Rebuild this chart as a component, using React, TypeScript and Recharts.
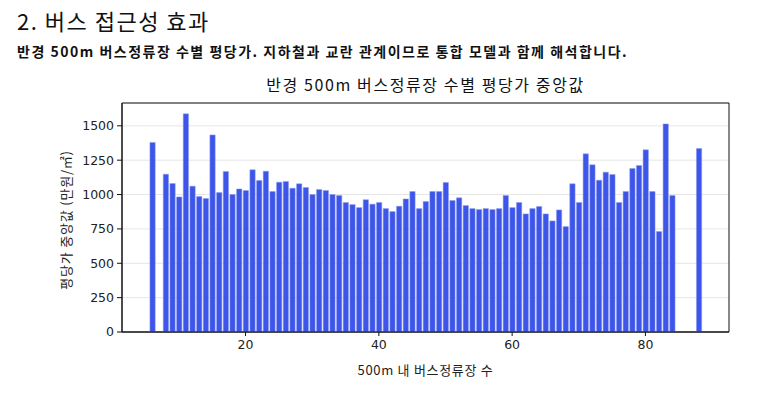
import { BarChart, Bar, XAxis, YAxis, CartesianGrid, ReferenceArea } from 'recharts';

const busStopCounts = [
	6, 8, 9, 10, 11, 12, 13, 14, 15, 16, 17, 18, 19, 20, 21, 22, 23, 24, 25, 26, 27, 28, 29, 30, 31,
	32, 33, 34, 35, 36, 37, 38, 39, 40, 41, 42, 43, 44, 45, 46, 47, 48, 49, 50, 51, 52, 53, 54, 55,
	56, 57, 58, 59, 60, 61, 62, 63, 64, 65, 66, 67, 68, 69, 70, 71, 72, 73, 74, 75, 76, 77, 78, 79,
	80, 81, 82, 83, 84, 88,
];
const medianPrices = [
	1379, 1148, 1080, 983, 1587, 1061, 985, 971, 1434, 1014, 1167, 1000, 1041, 1029, 1180, 1102, 1170,
	1022, 1090, 1095, 1046, 1078, 1051, 1000, 1036, 1029, 1000, 993, 942, 927, 905, 963, 930, 942, 898,
	876, 915, 968, 1022, 898, 949, 1022, 1022, 1087, 956, 976, 920, 898, 891, 898, 891, 898, 993, 905,
	942, 859, 898, 913, 859, 808, 888, 767, 1078, 942, 1296, 1216, 1104, 1163, 1146, 942, 1022, 1189,
	1211, 1325, 1022, 731, 1514, 993, 1335,
];
const xTicks = [20, 40, 60, 80];
const yTicks = [0, 250, 500, 750, 1000, 1250, 1500];

const data = busStopCounts.map((n, i) => ({ n, price: medianPrices[i] }));

const font = '"Noto Sans CJK KR", "Noto Sans", sans-serif';
const tickFont = '"DejaVu Sans", sans-serif';
const xDomain: [number, number] = [1.46, 92.54];
const yDomain: [number, number] = [0, 1666];

export default function App() {
	return (
		<div style={{ position: 'absolute', left: 0, top: 0, width: 781, height: 401, fontFamily: font, background: '#fff' }}>
			<div style={{ position: 'absolute', left: 17, top: 4, fontSize: 22, letterSpacing: 1.5, color: '#111' }}>
				2. 버스 접근성 효과
			</div>
			<div style={{ position: 'absolute', left: 17, top: 41, fontSize: 14, fontWeight: 700, letterSpacing: 1.5, color: '#111' }}>
				반경 500m 버스정류장 수별 평당가. 지하철과 교란 관계이므로 통합 모델과 함께 해석합니다.
			</div>
			<div style={{ position: 'absolute', left: 122, width: 607, top: 72, textAlign: 'center', fontSize: 16, letterSpacing: 1.6, color: '#111' }}>
				반경 500m 버스정류장 수별 평당가 중앙값
			</div>
			<div style={{ position: 'absolute', left: 122, width: 607, top: 360, textAlign: 'center', fontSize: 13, letterSpacing: 0.7, color: '#222' }}>
				500m 내 버스정류장 수
			</div>
			<div
				style={{
					position: 'absolute',
					left: 65,
					top: 220,
					transform: 'translate(-50%, -50%) rotate(-90deg)',
					whiteSpace: 'nowrap',
					fontSize: 13,
					letterSpacing: 0.8,
					color: '#222',
				}}>
				평당가 중앙값 (만원/㎡)
			</div>
			<div style={{ position: 'absolute', left: 0, top: 0 }}>
				<BarChart
					width={781}
					height={401}
					data={data}
					margin={{ top: 103, right: 52, left: 62, bottom: 39 }}>
					<CartesianGrid horizontal vertical={false} stroke="#e6e6e6" />
					<XAxis
						dataKey="n"
						type="number"
						domain={xDomain}
						ticks={xTicks}
						allowDataOverflow
						height={30}
						stroke="#111"
						tickSize={4}
						tickMargin={4}
						tick={{ fill: '#222', fontSize: 12.5, fontFamily: tickFont }}
					/>
					<YAxis
						domain={yDomain}
						ticks={yTicks}
						allowDataOverflow
						width={60}
						stroke="#111"
						tickSize={5}
						tickMargin={3}
						tick={{ fill: '#222', fontSize: 12.5, fontFamily: tickFont }}
					/>
					<Bar
						dataKey="price"
						fill="#3d55e8"
						stroke="#8d9cf2"
						strokeWidth={0.5}
						barSize={5.3}
						isAnimationActive={false}
					/>
					<ReferenceArea
						x1={xDomain[0]}
						x2={xDomain[1]}
						y1={yDomain[0]}
						y2={yDomain[1]}
						fill="none"
						fillOpacity={0}
						stroke="#111"
						strokeWidth={1}
						ifOverflow="visible"
					/>
				</BarChart>
			</div>
		</div>
	);
}
